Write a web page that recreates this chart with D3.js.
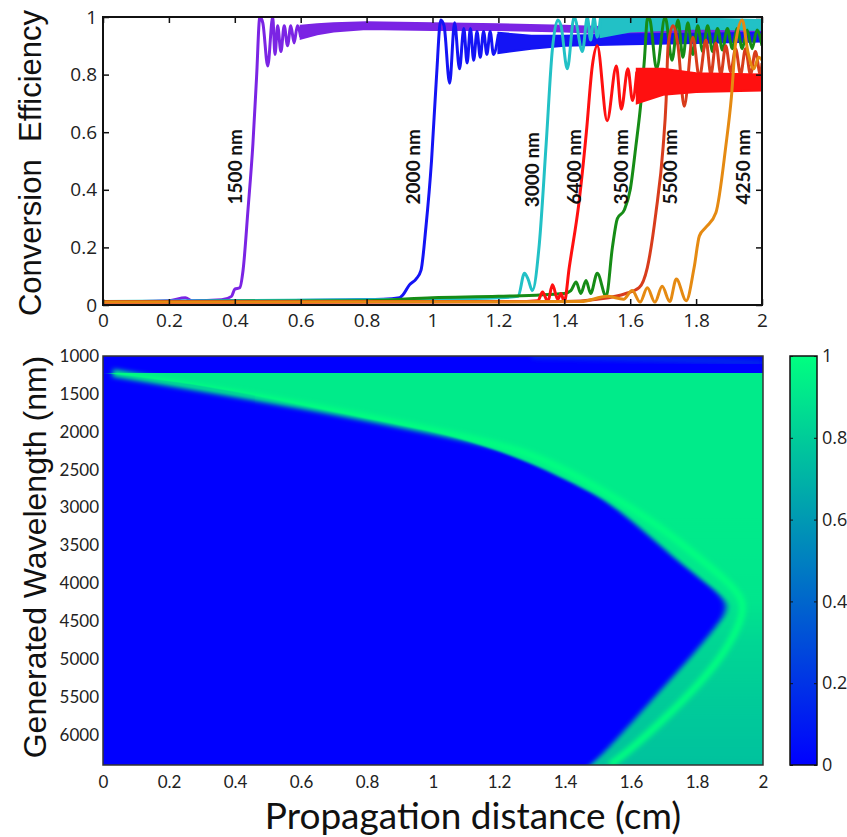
<!DOCTYPE html>
<html>
<head>
<meta charset="utf-8">
<script src="https://cdn.jsdelivr.net/npm/d3@7"></script>
<style>
    body { margin: 0; background: #fff; }
    svg { display: block; }
</style>
</head>
<body>
<svg id="chart" width="847" height="837"></svg>
<script>
"use strict";

// ---- tick values ----
const DIST_TICKS = [0, 0.2, 0.4, 0.6, 0.8, 1, 1.2, 1.4, 1.6, 1.8, 2];
const CE_TICKS = [0, 0.2, 0.4, 0.6, 0.8, 1];
const WL_TICKS = [1000, 1500, 2000, 2500, 3000, 3500, 4000, 4500, 5000, 5500, 6000];
const CB_TICKS = [0, 0.2, 0.4, 0.6, 0.8, 1];

// ---- top panel: conversion efficiency vs distance ----
// [distance cm, efficiency]
const line1500 = [[0.08, 0.012], [0.2, 0.015], [0.25, 0.025], [0.27, 0.015], [0.36, 0.018], [0.39, 0.03], [0.4, 0.055],
    [0.415, 0.06], [0.425, 0.12], [0.44, 0.33], [0.455, 0.56], [0.466, 0.79], [0.476, 1.0], [0.485, 0.98], [0.5, 0.83],
    [0.515, 1.0], [0.522, 0.87], [0.53, 0.97], [0.54, 0.88], [0.55, 0.97], [0.56, 0.9], [0.57, 0.97], [0.58, 0.91],
    [0.59, 0.97], [0.6, 0.93]];
const band1500 = [[0.6, 0.925, 0.97], [0.65, 0.94, 0.975], [0.7, 0.95, 0.978], [0.8, 0.958, 0.982],
    [1.0, 0.955, 0.978], [1.2, 0.955, 0.975], [1.4, 0.95, 0.97], [1.6, 0.94, 0.962], [1.8, 0.935, 0.958],
    [2.0, 0.93, 0.952]];

const line2000 = [[0, 0.012], [0.5, 0.015], [0.85, 0.02], [0.9, 0.025], [0.91, 0.035], [0.93, 0.07], [0.95, 0.09],
    [0.965, 0.12], [0.98, 0.27], [0.997, 0.5], [1.012, 0.79], [1.025, 0.99], [1.035, 0.97], [1.052, 0.77],
    [1.067, 0.98], [1.082, 0.82], [1.095, 0.96], [1.105, 0.84], [1.115, 0.96], [1.125, 0.85], [1.135, 0.95],
    [1.145, 0.86], [1.155, 0.95], [1.165, 0.87], [1.175, 0.95], [1.185, 0.87], [1.2, 0.94]];
const band2000 = [[1.2, 0.875, 0.945], [1.3, 0.89, 0.935], [1.4, 0.9, 0.935], [1.6, 0.905, 0.94],
    [1.8, 0.91, 0.942], [2.0, 0.915, 0.945]];

const line3000 = [[0, 0.012], [1.0, 0.02], [1.2, 0.025], [1.26, 0.03], [1.279, 0.11], [1.29, 0.09], [1.303, 0.05],
    [1.324, 0.21], [1.345, 0.56], [1.364, 0.89], [1.38, 0.99], [1.39, 0.97], [1.409, 0.82], [1.43, 1.0],
    [1.455, 0.88], [1.47, 1.0], [1.48, 0.92], [1.49, 1.0], [1.5, 0.93], [1.51, 1.0]];
const band3000 = [[1.51, 0.93, 1.0], [1.6, 0.95, 0.995], [1.8, 0.96, 0.995], [2.0, 0.955, 0.99]];

const line3500 = [[0, 0.012], [0.8, 0.015], [1.0, 0.025], [1.2, 0.03], [1.4, 0.04], [1.42, 0.05], [1.436, 0.08],
    [1.45, 0.04], [1.466, 0.085], [1.48, 0.04], [1.5, 0.11], [1.527, 0.03], [1.546, 0.2], [1.561, 0.3],
    [1.582, 0.33], [1.6, 0.4], [1.617, 0.55], [1.633, 0.71], [1.643, 0.85], [1.653, 1.0], [1.66, 0.99],
    [1.68, 0.82], [1.706, 1.0], [1.727, 0.85], [1.745, 0.99], [1.76, 0.86], [1.775, 0.98], [1.79, 0.87],
    [1.805, 0.97], [1.82, 0.88], [1.835, 0.97], [1.85, 0.88], [1.865, 0.96], [1.88, 0.885], [1.895, 0.96],
    [1.91, 0.89], [1.925, 0.96], [1.94, 0.89], [1.955, 0.955], [1.97, 0.89], [1.985, 0.955], [2.0, 0.9]];
const band3500 = [];

const line5500 = [[0, 0.01], [1.4, 0.012], [1.5, 0.02], [1.587, 0.04], [1.627, 0.06], [1.652, 0.13], [1.678, 0.32],
    [1.7, 0.55], [1.709, 0.71], [1.715, 0.9], [1.73, 0.97], [1.745, 0.9], [1.764, 0.69], [1.79, 0.93],
    [1.81, 0.79], [1.83, 0.92], [1.845, 0.8], [1.86, 0.91], [1.875, 0.8], [1.89, 0.9], [1.905, 0.81],
    [1.92, 0.89], [1.935, 0.8], [1.95, 0.89], [1.965, 0.8], [1.98, 0.88], [1.995, 0.8], [2.0, 0.84]];
const band5500 = [];

const line4250 = [[0, 0.01], [1.45, 0.012], [1.53, 0.03], [1.58, 0.02], [1.606, 0.05], [1.63, 0.01], [1.652, 0.06],
    [1.675, 0.01], [1.697, 0.065], [1.72, 0.012], [1.74, 0.09], [1.77, 0.015], [1.794, 0.13], [1.81, 0.24],
    [1.83, 0.27], [1.86, 0.32], [1.89, 0.55], [1.907, 0.72], [1.92, 0.91], [1.94, 0.99], [1.957, 0.88],
    [1.975, 0.82], [1.99, 0.86], [2.0, 0.85]];
const band4250 = [];

const line6400 = [[0, 0.01], [1.25, 0.012], [1.32, 0.015], [1.334, 0.045], [1.35, 0.012], [1.364, 0.07],
    [1.38, 0.02], [1.39, 0.04], [1.4, 0.01], [1.415, 0.13], [1.445, 0.36], [1.467, 0.6], [1.485, 0.83],
    [1.5, 0.9], [1.53, 0.64], [1.558, 0.83], [1.573, 0.68], [1.593, 0.82], [1.607, 0.71], [1.62, 0.81]];
const band6400 = [[1.62, 0.7, 0.82], [1.7, 0.73, 0.82], [1.8, 0.74, 0.805], [2.0, 0.745, 0.8]];

// draw order = list order
const SERIES_NAMES = ["1500 nm", "2000 nm", "3000 nm", "3500 nm", "5500 nm", "6400 nm", "4250 nm"];
const SERIES_COLORS = ["#7b24e4", "#1414f5", "#22c1c6", "#168c16", "#d83c1c", "#ff1010", "#e58a12"];
const SERIES_LINES = [line1500, line2000, line3000, line3500, line5500, line6400, line4250];
const SERIES_BANDS = [band1500, band2000, band3000, band3500, band5500, band6400, band4250];
// label anchor (distance, efficiency)
const LABEL_X = [0.4, 0.94, 1.3, 1.57, 1.72, 1.427, 1.94];
const LABEL_Y = [0.48, 0.48, 0.47, 0.48, 0.48, 0.48, 0.48];

// ---- bottom panel: map ----
const WL_MIN = 1000, WL_MAX = 6400;
const GREEN_TOP_WL = 1225;
// onset edge of the converted region
const EDGE_WL = [1225, 1383, 1647, 1911, 2060, 2330, 2638, 2859, 3123, 3387, 3695, 3959, 4135, 4267, 4400,
    4532, 4884, 5324, 5765, 6205, 6400];
const EDGE_D = [0.012, 0.294, 0.597, 0.9, 1.065, 1.254, 1.405, 1.506, 1.587, 1.658, 1.738, 1.815, 1.865, 1.89,
    1.885, 1.865, 1.8, 1.708, 1.617, 1.526, 1.476];
// bright first fringe
const RING_WL = [1225, 1650, 2000, 2240, 2678, 3127, 3563, 4000, 4220, 4440, 4884, 5324, 5765, 6205, 6400];
const RING_D = [0.03, 0.62, 1.02, 1.284, 1.476, 1.648, 1.779, 1.9, 1.94, 1.94, 1.89, 1.809, 1.708, 1.597, 1.536];
// faint streak inside the unconverted top band
const STREAK_WL = [1004, 1020, 1045, 1075, 1095];
const STREAK_D = [1.3, 1.5, 1.7, 1.9, 2.0];
// plateau level of the converted region
const FILL_WL = [1225, 3000, 4200, 4800, 5500, 6400];
const FILL_VAL = [0.92, 0.92, 0.9, 0.84, 0.8, 0.76];

const LINE_FONT = "'Open Sans', 'Noto Sans', sans-serif";
const MAP_FONT = "Lato, 'Open Sans', sans-serif";
const TITLE_FONT = "'Liberation Sans', Arial, sans-serif";

const winter = d3.interpolateRgb("#0000ff", "#00ff80");

function fmtTick(d) {
    return String(d);
}

function buildLinePanel(svg) {
    const x = d3.scaleLinear().domain([0, 2]).range([103, 762]);
    const y = d3.scaleLinear().domain([0, 1]).range([305, 17]);

    const g = svg.append("g");
    g.append("clipPath").attr("id", "clip-top")
        .append("rect")
        .attr("x", x(0)).attr("y", y(1) - 1)
        .attr("width", x(2) - x(0)).attr("height", y(0) - y(1) + 1);

    const plot = g.append("g").attr("clip-path", "url(#clip-top)");
    const line = d3.line()
        .x(function (d) { return x(d[0]); })
        .y(function (d) { return y(d[1]); })
        .curve(d3.curveMonotoneX);
    const band = d3.area()
        .x(function (d) { return x(d[0]); })
        .y0(function (d) { return y(d[1]); })
        .y1(function (d) { return y(d[2]); });

    for (var i = 0; i < SERIES_NAMES.length; ++i) {
        const color = SERIES_COLORS[i];
        if (SERIES_BANDS[i].length) {
            plot.append("path")
                .datum(SERIES_BANDS[i])
                .attr("d", band)
                .attr("fill", color)
                .attr("stroke", color)
                .attr("stroke-width", 2);
        }
        plot.append("path")
            .datum(SERIES_LINES[i])
            .attr("d", line)
            .attr("fill", "none")
            .attr("stroke", color)
            .attr("stroke-width", 3)
            .attr("stroke-linejoin", "round");
    }

    // wavelength labels
    g.selectAll(".wl-label")
        .data(SERIES_NAMES)
        .enter()
        .append("text")
        .attr("class", "wl-label")
        .attr("transform", function (d, i) {
            return "translate(" + x(LABEL_X[i]) + "," + y(LABEL_Y[i]) + ") rotate(-90)";
        })
        .attr("text-anchor", "middle")
        .attr("dominant-baseline", "central")
        .style("font-family", MAP_FONT)
        .style("font-weight", "bold")
        .style("font-size", "19px")
        .attr("fill", "#111")
        .text(function (d) { return d; });

    // axes, ticks inside on all four sides
    const axisStyle = function (sel) {
        sel.select(".domain").remove();
        sel.selectAll("line").attr("stroke", "#111").attr("stroke-width", 1.5);
        sel.selectAll("text")
            .style("font-family", LINE_FONT)
            .style("font-size", "19px")
            .attr("fill", "#222");
    };
    g.append("g")
        .attr("transform", "translate(0," + y(0) + ")")
        .call(d3.axisBottom(x).tickValues(DIST_TICKS).tickSize(-6).tickPadding(9).tickFormat(fmtTick))
        .call(axisStyle);
    g.append("g")
        .attr("transform", "translate(0," + y(1) + ")")
        .call(d3.axisTop(x).tickValues(DIST_TICKS).tickSize(-6).tickFormat(""))
        .call(axisStyle);
    g.append("g")
        .attr("transform", "translate(" + x(0) + ",0)")
        .call(d3.axisLeft(y).tickValues(CE_TICKS).tickSize(-6).tickPadding(6).tickFormat(fmtTick))
        .call(axisStyle);
    g.append("g")
        .attr("transform", "translate(" + x(2) + ",0)")
        .call(d3.axisRight(y).tickValues(CE_TICKS).tickSize(-6).tickFormat(""))
        .call(axisStyle);

    g.append("rect")
        .attr("x", x(0)).attr("y", y(1))
        .attr("width", x(2) - x(0)).attr("height", y(0) - y(1))
        .attr("fill", "none")
        .attr("stroke", "#111")
        .attr("stroke-width", 2);

    g.append("text")
        .attr("transform", "translate(30,163) rotate(-90)")
        .attr("text-anchor", "middle")
        .attr("dominant-baseline", "central")
        .style("font-family", TITLE_FONT)
        .style("font-size", "31px")
        .attr("fill", "#111")
        .attr("xml:space", "preserve")
        .text("Conversion  Efficiency");
}

function buildMapPanel(svg) {
    const x = d3.scaleLinear().domain([0, 2]).range([103, 763]);
    const y = d3.scaleLinear().domain([WL_MIN, WL_MAX]).range([356, 765]);
    const defs = svg.append("defs");

    defs.append("clipPath").attr("id", "clip-map")
        .append("rect")
        .attr("x", x(0)).attr("y", y(WL_MIN))
        .attr("width", x(2) - x(0)).attr("height", y(WL_MAX) - y(WL_MIN));

    const grad = defs.append("linearGradient")
        .attr("id", "fill-grad")
        .attr("gradientUnits", "userSpaceOnUse")
        .attr("x1", 0).attr("x2", 0)
        .attr("y1", y(GREEN_TOP_WL)).attr("y2", y(WL_MAX));
    grad.selectAll("stop")
        .data(FILL_WL)
        .enter()
        .append("stop")
        .attr("offset", function (d) { return (d - GREEN_TOP_WL) / (WL_MAX - GREEN_TOP_WL); })
        .attr("stop-color", function (d, i) { return winter(FILL_VAL[i]); });

    defs.append("filter").attr("id", "soft-edge")
        .attr("x", "-10%").attr("y", "-10%").attr("width", "120%").attr("height", "120%")
        .append("feGaussianBlur").attr("stdDeviation", "3 0.6");
    defs.append("filter").attr("id", "soft-ring")
        .attr("x", "-10%").attr("y", "-10%").attr("width", "120%").attr("height", "120%")
        .append("feGaussianBlur").attr("stdDeviation", "2.5");

    const g = svg.append("g").attr("clip-path", "url(#clip-map)");
    g.append("rect")
        .attr("x", x(0)).attr("y", y(WL_MIN))
        .attr("width", x(2) - x(0)).attr("height", y(WL_MAX) - y(WL_MIN))
        .attr("fill", winter(0));

    const area = d3.area()
        .y(function (i) { return y(EDGE_WL[i]); })
        .x0(function (i) { return x(EDGE_D[i]); })
        .x1(x(2) + 20)
        .curve(d3.curveBasis);
    g.append("path")
        .datum(d3.range(EDGE_WL.length))
        .attr("d", area)
        .attr("fill", "url(#fill-grad)")
        .attr("filter", "url(#soft-edge)");

    const ring = d3.line()
        .x(function (i) { return x(RING_D[i]); })
        .y(function (i) { return y(RING_WL[i]); })
        .curve(d3.curveBasis);
    g.append("path")
        .datum(d3.range(RING_WL.length))
        .attr("d", ring)
        .attr("fill", "none")
        .attr("stroke", winter(1))
        .attr("stroke-width", 7)
        .attr("filter", "url(#soft-ring)");

    const streak = d3.line()
        .x(function (i) { return x(STREAK_D[i]); })
        .y(function (i) { return y(STREAK_WL[i]); })
        .curve(d3.curveBasis);
    g.append("path")
        .datum(d3.range(STREAK_WL.length))
        .attr("d", streak)
        .attr("fill", "none")
        .attr("stroke", winter(0.3))
        .attr("stroke-width", 3)
        .attr("filter", "url(#soft-ring)");

    svg.append("rect")
        .attr("x", x(0)).attr("y", y(WL_MIN))
        .attr("width", x(2) - x(0)).attr("height", y(WL_MAX) - y(WL_MIN))
        .attr("fill", "none")
        .attr("stroke", "#333")
        .attr("stroke-width", 1.5);

    const axisStyle = function (sel) {
        sel.select(".domain").remove();
        sel.selectAll("text")
            .style("font-family", MAP_FONT)
            .style("font-size", "17px")
            .attr("fill", "#222");
    };
    svg.append("g")
        .attr("transform", "translate(0," + y(WL_MAX) + ")")
        .call(d3.axisBottom(x).tickValues(DIST_TICKS).tickSize(0).tickPadding(11).tickFormat(fmtTick))
        .call(axisStyle);
    svg.append("g")
        .attr("transform", "translate(" + (x(0) - 2) + ",0)")
        .call(d3.axisLeft(y).tickValues(WL_TICKS).tickSize(0).tickPadding(2).tickFormat(fmtTick))
        .call(axisStyle);

    svg.append("text")
        .attr("transform", "translate(35,557) rotate(-90)")
        .attr("text-anchor", "middle")
        .attr("dominant-baseline", "central")
        .style("font-family", TITLE_FONT)
        .style("font-size", "32px")
        .attr("fill", "#111")
        .text("Generated Wavelength (nm)");

    svg.append("text")
        .attr("x", 473).attr("y", 829)
        .attr("text-anchor", "middle")
        .style("font-family", MAP_FONT)
        .style("font-size", "37px")
        .attr("fill", "#111")
        .text("Propagation distance (cm)");
}

function buildColorbar(svg) {
    const c = d3.scaleLinear().domain([0, 1]).range([765, 356]);
    const left = 790, right = 817;
    const defs = svg.append("defs");
    const grad = defs.append("linearGradient")
        .attr("id", "cb-grad")
        .attr("x1", 0).attr("x2", 0).attr("y1", 1).attr("y2", 0);
    grad.selectAll("stop")
        .data(d3.range(0, 11))
        .enter()
        .append("stop")
        .attr("offset", function (d) { return d / 10; })
        .attr("stop-color", function (d) { return winter(d / 10); });

    svg.append("rect")
        .attr("x", left).attr("y", c(1))
        .attr("width", right - left).attr("height", c(0) - c(1))
        .attr("fill", "url(#cb-grad)")
        .attr("stroke", "#111")
        .attr("stroke-width", 1.5);

    const ax = svg.append("g")
        .attr("transform", "translate(" + right + ",0)")
        .call(d3.axisRight(c).tickValues(CB_TICKS).tickSize(-3).tickPadding(5).tickFormat(fmtTick));
    ax.select(".domain").remove();
    ax.selectAll("line").attr("stroke", "#111");
    ax.selectAll("text")
        .style("font-family", LINE_FONT)
        .style("font-size", "18px")
        .attr("fill", "#222");
    const axl = svg.append("g")
        .attr("transform", "translate(" + left + ",0)")
        .call(d3.axisLeft(c).tickValues(CB_TICKS).tickSize(-3).tickFormat(""));
    axl.select(".domain").remove();
    axl.selectAll("line").attr("stroke", "#111");
}

function main() {
    const svg = d3.select("#chart");
    buildLinePanel(svg);
    buildMapPanel(svg);
    buildColorbar(svg);
}

main();
</script>
</body>
</html>
